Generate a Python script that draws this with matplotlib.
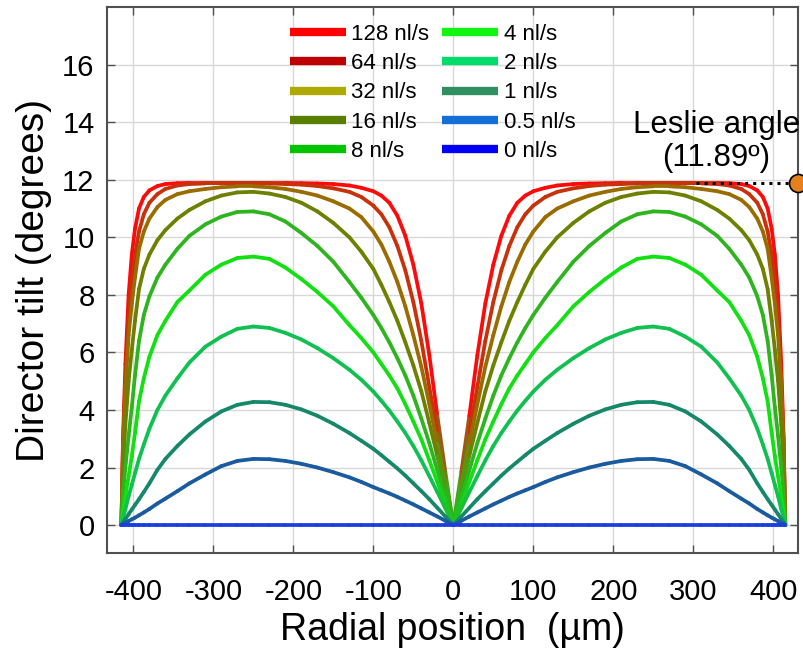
import numpy as np
import matplotlib
matplotlib.use("Agg")
import matplotlib.pyplot as plt
from matplotlib.collections import LineCollection
from matplotlib.colors import to_rgb
from matplotlib.lines import Line2D

plt.rcParams['font.family'] = ['Liberation Sans', 'DejaVu Sans']
plt.rcParams['axes.unicode_minus'] = False

# radial positions (um), right half; the profiles are mirrored about r = 0
radius = [0, 10, 20, 30, 40, 50, 60, 70, 80, 90, 100, 115, 130, 150, 170,
          190, 210, 230, 250, 270, 290, 310, 330, 345, 360, 370, 380, 387,
          393, 398, 402, 406, 410, 413, 415]

# director tilt (degrees)
tilt_128 = [0, 1.85, 3.8, 5.9, 7.7, 9.05, 10.05, 10.75, 11.2, 11.45, 11.6,
            11.72, 11.8, 11.85, 11.87, 11.88, 11.89, 11.89, 11.89, 11.89,
            11.89, 11.89, 11.89, 11.88, 11.85, 11.78, 11.63, 11.4, 11.0,
            10.3, 9.4, 8.0, 5.6, 3.0, 0]
tilt_64 = [0, 1.6, 3.2, 4.8, 6.4, 7.75, 8.85, 9.7, 10.35, 10.8, 11.1, 11.4,
           11.58, 11.7, 11.78, 11.83, 11.85, 11.87, 11.87, 11.87, 11.87,
           11.87, 11.85, 11.8, 11.68, 11.5, 11.2, 10.8, 10.2, 9.4, 8.5, 7.2,
           5.0, 2.8, 0]
tilt_32 = [0, 1.42, 2.83, 4.2, 5.5, 6.6, 7.6, 8.45, 9.15, 9.75, 10.2, 10.7,
           11.0, 11.25, 11.45, 11.58, 11.68, 11.74, 11.77, 11.77, 11.74,
           11.68, 11.6, 11.5, 11.3, 11.05, 10.65, 10.2, 9.6, 8.6, 7.7, 6.6,
           4.8, 2.7, 0]
tilt_16 = [0, 1.2, 2.4, 3.55, 4.65, 5.55, 6.35, 7.1, 7.75, 8.35, 8.9, 9.5,
           10.0, 10.5, 10.9, 11.2, 11.4, 11.52, 11.58, 11.56, 11.45, 11.25,
           10.95, 10.65, 10.25, 9.9, 9.4, 8.9, 8.2, 7.1, 6.1, 5.0, 3.5, 2.0, 0]
tilt_8 = [0, 0.95, 1.9, 2.85, 3.7, 4.5, 5.2, 5.8, 6.35, 6.85, 7.3, 7.9, 8.45,
          9.15, 9.7, 10.15, 10.55, 10.8, 10.9, 10.88, 10.72, 10.45, 10.05,
          9.6, 9.05, 8.6, 7.95, 7.3, 6.4, 5.2, 4.1, 3.1, 2.0, 1.1, 0]
tilt_4 = [0, 0.75, 1.5, 2.25, 2.98, 3.6, 4.2, 4.75, 5.2, 5.6, 6.0, 6.5, 6.95,
          7.6, 8.1, 8.55, 8.95, 9.25, 9.33, 9.28, 9.05, 8.7, 8.15, 7.75, 7.1,
          6.6, 5.85, 5.1, 4.3, 3.2, 2.4, 1.7, 1.0, 0.5, 0]
tilt_2 = [0, 0.58, 1.15, 1.7, 2.25, 2.75, 3.2, 3.6, 3.98, 4.32, 4.64, 5.05,
          5.4, 5.8, 6.15, 6.45, 6.68, 6.85, 6.9, 6.82, 6.55, 6.2, 5.65, 5.1,
          4.5, 4.0, 3.35, 2.8, 2.3, 1.8, 1.4, 1.0, 0.55, 0.25, 0]
tilt_1 = [0, 0.3, 0.6, 0.9, 1.18, 1.45, 1.72, 1.97, 2.2, 2.43, 2.65, 2.93,
          3.2, 3.52, 3.8, 4.02, 4.18, 4.27, 4.28, 4.18, 3.95, 3.6, 3.15, 2.75,
          2.3, 1.92, 1.45, 1.15, 0.9, 0.7, 0.54, 0.38, 0.21, 0.09, 0]
tilt_05 = [0, 0.15, 0.3, 0.44, 0.58, 0.72, 0.85, 0.98, 1.1, 1.21, 1.32, 1.5,
           1.66, 1.84, 2.0, 2.13, 2.23, 2.29, 2.3, 2.23, 2.05, 1.76, 1.45,
           1.18, 0.92, 0.75, 0.56, 0.44, 0.34, 0.26, 0.2, 0.14, 0.08, 0.04, 0]
tilt_0 = [0] * len(radius)

flow_labels = ['128 nl/s', '64 nl/s', '32 nl/s', '16 nl/s', '8 nl/s',
               '4 nl/s', '2 nl/s', '1 nl/s', '0.5 nl/s', '0 nl/s']
legend_colors = ['#ff0000', '#bf0000', '#aeaa00', '#5a7f00', '#00c400',
                 '#11f511', '#00dc6a', '#2f8f60', '#1470d8', '#0000f5']
line_colors = ['#ff0a0a', '#c8320a', '#9a6c00', '#6e8000', '#2eb41e',
               '#12e012', '#10c050', '#15886a', '#1a5a9e', '#1a3ee0']

leslie_angle = 11.89


def add_profile(ax, r, tilt, color, blend=True):
    r = np.asarray(r, float)
    tilt = np.asarray(tilt, float)
    x = np.concatenate([-r[::-1], r[1:]])
    y = np.concatenate([tilt[::-1], tilt[1:]])
    pts = np.column_stack([x, y]).reshape(-1, 1, 2)
    segs = np.concatenate([pts[:-1], pts[1:]], axis=1)
    base = np.array(to_rgb(color))
    cols = np.tile(base, (len(segs), 1))
    if blend:
        # curves fade to green where they meet at the centre
        xm = np.abs(0.5 * (x[:-1] + x[1:]))
        w = np.clip(1 - xm / 25.0, 0, 1)[:, None]
        cols = (1 - w) * base + w * np.array(to_rgb('#20c020'))
    lc = LineCollection(segs, colors=cols, linewidth=2.7,
                        capstyle='round', joinstyle='round')
    ax.add_collection(lc)


fig = plt.figure(figsize=(8.04, 6.52), dpi=100)
ax = fig.add_axes([0.1331, 0.1518, 0.8595, 0.8374])

profiles = [tilt_128, tilt_64, tilt_32, tilt_16, tilt_8,
            tilt_4, tilt_2, tilt_1, tilt_05, tilt_0]
for i, tilt in enumerate(profiles):
    add_profile(ax, radius, tilt, line_colors[i], blend=i < 7)

ax.set_xlim(-433, 431)
ax.set_ylim(-0.97, 18.0)
ax.set_xticks(range(-400, 401, 100))
ax.set_yticks(range(0, 17, 2))
ax.grid(True, color='#d8d8d8', lw=1)
ax.set_axisbelow(True)
ax.tick_params(direction='in', length=6, width=1, colors='#505050',
               labelcolor='black', labelsize=21, top=True, right=True)
ax.tick_params(axis='x', pad=18)
ax.tick_params(axis='y', pad=9)
for s in ax.spines.values():
    s.set_color('#505050')
    s.set_linewidth(1.5)

ax.set_xlabel('Radial position  (µm)', fontsize=27, labelpad=4)
ax.set_ylabel('Director tilt (degrees)', fontsize=28, labelpad=7)

# Leslie angle marker
ax.plot([304, 431], [leslie_angle, leslie_angle], color='black', ls=':',
        lw=2.2, clip_on=False)
ax.plot([431], [leslie_angle], 'o', ms=13, color='#e6801e', mec='black',
        mew=1.2, clip_on=False, zorder=5)
ax.text(329, 13.33, 'Leslie angle\n(11.89º)', fontsize=22.5, ha='center',
        va='center', linespacing=1.15)

handles = [Line2D([], [], color=c, lw=6, solid_capstyle='butt')
           for c in legend_colors]
ax.legend(handles, flow_labels, ncol=2, frameon=False, fontsize=16,
          loc='upper left', bbox_to_anchor=(290 / 804, 1 - 24 / 652),
          bbox_transform=fig.transFigure, borderpad=0, handlelength=2.5,
          handletextpad=0.25, columnspacing=0.6, labelspacing=0.37,
          borderaxespad=0)

fig.savefig('out.png', dpi=100)
